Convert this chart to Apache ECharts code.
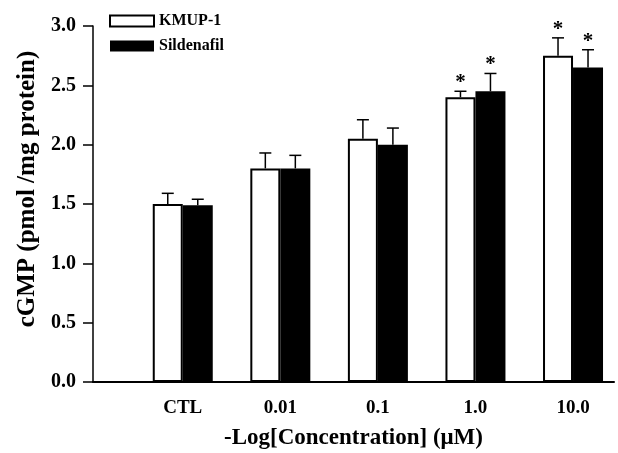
<!DOCTYPE html>
<html>
<head>
<meta charset="utf-8">
<script src="https://cdn.jsdelivr.net/npm/echarts@6/dist/echarts.min.js"></script>
<style>
    html, body { margin: 0; padding: 0; background: #fff; }
    #chart { width: 618px; height: 453px; }
</style>
</head>
<body>
<div id="chart"></div>
<script>
    // categories on the x axis
    var categories = ['CTL', '0.01', '0.1', '1.0', '10.0'];
    // KMUP-1 (white bars)
    var kmupValues = [1.50, 1.80, 2.05, 2.40, 2.75];
    var kmupErrors = [0.09, 0.13, 0.16, 0.05, 0.15];
    var kmupSig = [0, 0, 0, 1, 1];
    // Sildenafil (black bars)
    var sildValues = [1.49, 1.80, 2.00, 2.45, 2.65];
    var sildErrors = [0.05, 0.11, 0.14, 0.15, 0.15];
    var sildSig = [0, 0, 0, 1, 1];
    var yTicks = [0, 0.5, 1.0, 1.5, 2.0, 2.5, 3.0];

    var font = 'Liberation Serif';
    var barW = 30;

    function pairs(vals) {
        return vals.map(function (v, i) { return [i, v]; });
    }
    function errData(vals, errs, sig) {
        return vals.map(function (v, i) { return [i, v, errs[i], sig[i]]; });
    }
    // error bar + asterisk, shifted half a bar left/right of the group centre
    function errRenderer(shift) {
        return function (params, api) {
            var x = api.value(0), v = api.value(1), e = api.value(2), s = api.value(3);
            var base = api.coord([x, v]);
            var top = api.coord([x, v + e]);
            var cx = base[0] + shift;
            var kids = [
                { type: 'line', shape: { x1: cx, y1: base[1], x2: cx, y2: top[1] },
                  style: { stroke: '#000', lineWidth: 1.5 } },
                { type: 'line', shape: { x1: cx - 6, y1: top[1], x2: cx + 6, y2: top[1] },
                  style: { stroke: '#000', lineWidth: 1.5 } }
            ];
            if (s) {
                kids.push({ type: 'text', style: { text: '*', x: cx, y: top[1] + 2,
                    align: 'center', verticalAlign: 'bottom',
                    font: 'bold 21px ' + font, fill: '#000' } });
            }
            return { type: 'group', children: kids };
        };
    }

    var myChart = echarts.init(document.getElementById('chart'));
    myChart.setOption({
        animation: false,
        textStyle: { fontFamily: font },
        legend: {
            orient: 'vertical',
            left: 104,
            top: 8,
            icon: 'rect',
            itemWidth: 44,
            itemHeight: 11,
            itemGap: 9,
            textStyle: { fontFamily: font, fontSize: 16, fontWeight: 'bold', color: '#000' },
            data: ['KMUP-1', 'Sildenafil']
        },
        grid: { left: 93, right: 4, top: 26, bottom: 71, outerBoundsMode: 'none' },
        xAxis: {
            type: 'value',
            min: -0.92,
            max: 4.42,
            splitLine: { show: false },
            axisTick: { show: false },
            axisLine: { show: true, onZero: false, lineStyle: { color: '#000', width: 2 } },
            axisLabel: {
                margin: 17,
                fontFamily: font, fontSize: 19, fontWeight: 'bold', color: '#000',
                showMinLabel: false, showMaxLabel: false,
                formatter: function (v) {
                    return Number.isInteger(v) && categories[v] !== undefined ? categories[v] : '';
                }
            },
            name: '-Log[Concentration] (\u03bcM)',
            nameLocation: 'middle',
            nameGap: 45,
            nameTextStyle: { fontFamily: font, fontSize: 23, fontWeight: 'bold', color: '#000' }
        },
        yAxis: {
            type: 'value',
            min: 0,
            max: 3,
            interval: 0.5,
            splitLine: { show: false },
            axisLine: { show: true, onZero: false, lineStyle: { color: '#000', width: 1.5 } },
            axisTick: { show: true, length: 10, lineStyle: { color: '#000', width: 1.5 } },
            axisLabel: {
                margin: 17,
                fontFamily: font, fontSize: 20, fontWeight: 'bold', color: '#000',
                formatter: function (v) { return yTicks.indexOf(v) >= 0 ? v.toFixed(1) : ''; }
            },
            name: 'cGMP (pmol /mg protein)',
            nameLocation: 'middle',
            nameGap: 44,
            nameTextStyle: { fontFamily: font, fontSize: 25, fontWeight: 'bold', color: '#000',
                padding: [0, 0, 0, 30] }
        },
        series: [
            {
                name: 'KMUP-1',
                type: 'bar',
                barWidth: barW,
                barGap: '0%',
                itemStyle: { color: '#fff', borderColor: '#000', borderWidth: 2 },
                data: pairs(kmupValues)
            },
            {
                name: 'Sildenafil',
                type: 'bar',
                barWidth: barW,
                barGap: '0%',
                itemStyle: { color: '#000' },
                data: pairs(sildValues)
            },
            {
                type: 'custom',
                renderItem: errRenderer(-barW / 2),
                encode: { x: 0, y: 1 },
                z: 3,
                data: errData(kmupValues, kmupErrors, kmupSig)
            },
            {
                type: 'custom',
                renderItem: errRenderer(barW / 2),
                encode: { x: 0, y: 1 },
                z: 3,
                data: errData(sildValues, sildErrors, sildSig)
            }
        ]
    });
</script>
</body>
</html>
